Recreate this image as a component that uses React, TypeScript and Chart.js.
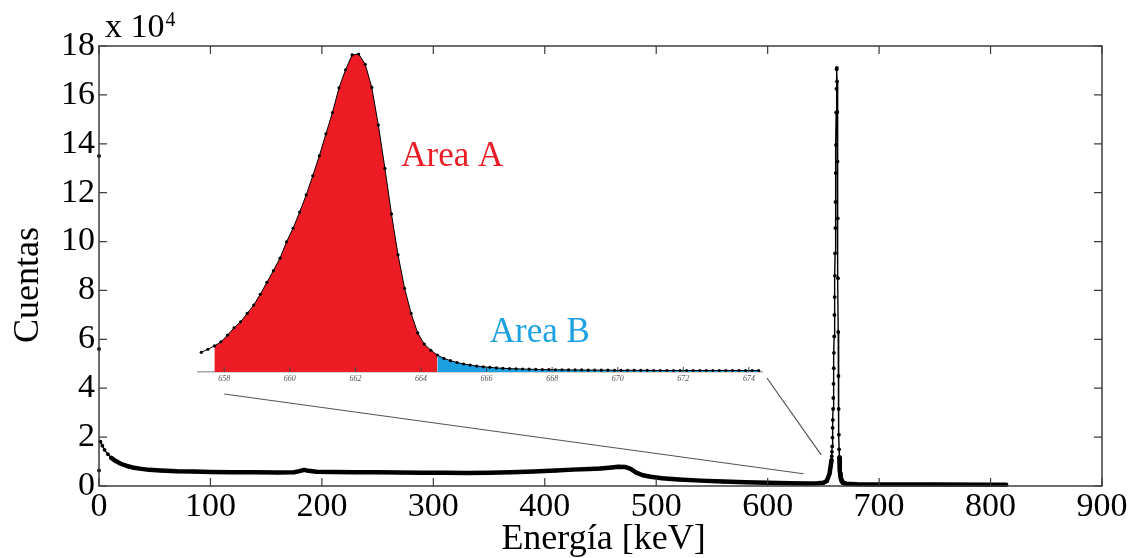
import React, { useEffect, useRef } from "react";
import { Chart, registerables } from "chart.js";

Chart.register(...registerables);

const SERIF = '"Liberation Serif", "Times New Roman", serif';

// Axis ticks
const xTicks = [0, 100, 200, 300, 400, 500, 600, 700, 800, 900];
const yTicks = [0, 2, 4, 6, 8, 10, 12, 14, 16, 18];
const insetTicks = [658, 660, 662, 664, 666, 668, 670, 672, 674];

// Spectrum (counts in units of 10^4)
const continuumEnergy = [1.3, 3, 5, 8, 11, 15, 20, 25, 30, 38, 45, 55, 70, 85, 100, 120, 140, 160, 175, 180, 184, 188, 195, 210, 230, 250, 270, 290, 310, 330, 350, 370, 390, 410, 425, 440, 450, 460, 466, 472, 477, 482, 488, 495, 505, 520, 540, 560, 580, 600, 620, 635, 645, 650, 653, 655.5, 656.5];
const continuumCounts = [1.81, 1.65, 1.48, 1.3, 1.15, 1.02, 0.9, 0.82, 0.76, 0.7, 0.66, 0.63, 0.6, 0.59, 0.57, 0.56, 0.56, 0.55, 0.56, 0.61, 0.66, 0.62, 0.58, 0.57, 0.56, 0.56, 0.55, 0.54, 0.54, 0.53, 0.54, 0.56, 0.59, 0.63, 0.67, 0.7, 0.72, 0.76, 0.79, 0.78, 0.7, 0.55, 0.44, 0.38, 0.32, 0.27, 0.22, 0.18, 0.15, 0.13, 0.11, 0.1, 0.11, 0.13, 0.2, 0.5, 0.8];

// first channels at ~0 keV
const zeroChannelEnergy = [0, 0, 0];
const zeroChannelCounts = [13.5, 5.6, 0.63];

// Photopeak region, 0.2 keV channels starting at 657.3 keV
const peakStartEnergy = 657.3;
const peakChannelWidth = 0.2;
const peakCounts = [
  1.06, 1.22, 1.4, 1.62, 1.98, 2.38, 2.7, 3.15, 3.6, 4.18,
  4.82, 5.45, 6.12, 7.0, 7.73, 8.6, 9.52, 10.55, 11.62, 12.8,
  13.95, 15.28, 16.25, 17.05, 17.1, 16.55, 15.3, 13.28, 10.95, 8.5,
  6.3, 4.5, 3.15, 2.1, 1.5, 1.17, 0.91, 0.73, 0.61, 0.51,
  0.43, 0.37, 0.32, 0.28, 0.25, 0.22, 0.2, 0.18, 0.17, 0.16,
  0.15, 0.14, 0.13, 0.13, 0.12, 0.12, 0.11, 0.11, 0.11, 0.1,
  0.1, 0.1, 0.1, 0.09, 0.09, 0.09, 0.09, 0.09, 0.09, 0.08,
  0.08, 0.08, 0.08, 0.08, 0.08, 0.08, 0.08, 0.08, 0.08, 0.08,
  0.08, 0.08, 0.08, 0.08, 0.08, 0.08,
];
const peakEnergy = peakCounts.map((_, i) => +(peakStartEnergy + i * peakChannelWidth).toFixed(1));

const tailEnergy = [680, 700, 750, 800, 814];
const tailCounts = [0.07, 0.06, 0.06, 0.055, 0.05];

// Areas
const areaAStart = 657.7;
const areaSplit = 664.5;
const areaLabels = ["Area A", "Area B"];
const areaColors = ["#ED1C24", "#1BA1E2"];
const areaLabelEnergy = [663.4, 666.1];
const areaLabelCounts = [11.1, 1.6];

// zoom connector lines: inset energy -> main (energy, counts)
const connectorInsetEnergy = [658, 674.55];
const connectorDrop = [22, 6];
const connectorMainEnergy = [632, 648];
const connectorMainCounts = [0.5, 1.27];

const pts = (xs: number[], ys: number[]) => xs.map((x, i) => ({ x, y: ys[i] }));

export default function App() {
  const mainRef = useRef<HTMLCanvasElement>(null);
  const insetRef = useRef<HTMLCanvasElement>(null);

  useEffect(() => {
    const spectrum = [
      ...pts(continuumEnergy, continuumCounts),
      ...pts(peakEnergy, peakCounts),
      ...pts(tailEnergy, tailCounts),
    ];

    const framePlugin = {
      id: "frame",
      afterDraw(chart: any) {
        const { ctx, chartArea: a, scales } = chart;
        ctx.save();
        ctx.strokeStyle = "#3c3c3c";
        ctx.lineWidth = 1.5;
        ctx.strokeRect(a.left, a.top, a.right - a.left, a.bottom - a.top);
        ctx.lineWidth = 1.2;
        const tl = 8;
        ctx.beginPath();
        xTicks.forEach((v) => {
          const x = scales.x.getPixelForValue(v);
          ctx.moveTo(x, a.bottom); ctx.lineTo(x, a.bottom - tl);
          ctx.moveTo(x, a.top); ctx.lineTo(x, a.top + tl);
        });
        yTicks.forEach((v) => {
          const y = scales.y.getPixelForValue(v);
          ctx.moveTo(a.left, y); ctx.lineTo(a.left + tl, y);
          ctx.moveTo(a.right, y); ctx.lineTo(a.right - tl, y);
        });
        ctx.stroke();

        // exponent label
        ctx.fillStyle = "#000";
        ctx.textBaseline = "alphabetic";
        ctx.textAlign = "left";
        ctx.font = `34px ${SERIF}`;
        const base = "x 10";
        ctx.fillText(base, a.left + 6, a.top - 9);
        const w = ctx.measureText(base).width;
        ctx.font = `20px ${SERIF}`;
        ctx.fillText("4", a.left + 6 + w + 1, a.top - 20);

        // axis titles
        ctx.font = `36px ${SERIF}`;
        ctx.textAlign = "center";
        ctx.textBaseline = "middle";
        ctx.fillText("Energía [keV]", (a.left + a.right) / 2 + 3, 540);
        ctx.save();
        ctx.translate(29, (a.top + a.bottom) / 2 + 19);
        ctx.rotate(-Math.PI / 2);
        ctx.fillText("Cuentas", 0, 0);
        ctx.restore();
        ctx.restore();
      },
    };

    const main = new Chart(mainRef.current!, {
      type: "line",
      data: {
        datasets: [
          {
            data: spectrum,
            borderColor: "#000",
            backgroundColor: "#000",
            pointBackgroundColor: "#000",
            pointBorderWidth: 0,
            pointRadius: 1.9,
            borderWidth: 4.5,
            borderJoinStyle: "round",
            borderCapStyle: "round",
            fill: false,
            tension: 0,
            clip: false as any,
            segment: {
              borderWidth: (c: any) => (Math.max(c.p0.parsed.y, c.p1.parsed.y) > 1.2 ? 1.4 : 4.5),
            },
          } as any,
          {
            data: pts(zeroChannelEnergy, zeroChannelCounts),
            showLine: false,
            pointRadius: 2,
            pointBorderWidth: 0,
            pointBackgroundColor: "#000",
            borderColor: "#000",
            clip: false as any,
          } as any,
        ],
      },
      options: {
        responsive: false,
        animation: false,
        devicePixelRatio: 1,
        layout: { padding: { left: 0, top: 46, right: 35, bottom: 0 } },
        plugins: { legend: { display: false }, tooltip: { enabled: false } },
        scales: {
          x: {
            type: "linear",
            min: 0,
            max: 900,
            afterBuildTicks: (s: any) => { s.ticks = xTicks.map((value) => ({ value })); },
            afterFit: (s: any) => { s.height = 72; },
            grid: { display: false, drawTicks: false },
            border: { display: false },
            ticks: { font: { family: SERIF, size: 34 }, color: "#000", padding: 1, maxRotation: 0, autoSkip: false },
          },
          y: {
            type: "linear",
            min: 0,
            max: 18,
            afterBuildTicks: (s: any) => { s.ticks = yTicks.map((value) => ({ value })); },
            afterFit: (s: any) => { s.width = 99; },
            grid: { display: false, drawTicks: false },
            border: { display: false },
            ticks: { font: { family: SERIF, size: 34 }, color: "#000", padding: 4, autoSkip: false },
          },
        },
      } as any,
      plugins: [framePlugin],
    });

    const peakPts = pts(peakEnergy, peakCounts);

    const insetPlugin = {
      id: "insetDeco",
      afterDraw(chart: any) {
        const { ctx, chartArea: a, scales } = chart;
        ctx.save();
        ctx.strokeStyle = "#444";
        ctx.lineWidth = 1;
        ctx.beginPath();
        insetTicks.forEach((v) => {
          const x = scales.x.getPixelForValue(v);
          ctx.moveTo(x, a.bottom); ctx.lineTo(x, a.bottom - 5);
        });
        ctx.stroke();

        ctx.font = `35px ${SERIF}`;
        ctx.textAlign = "left";
        ctx.textBaseline = "alphabetic";
        areaLabels.forEach((t, i) => {
          ctx.fillStyle = areaColors[i];
          ctx.fillText(t, scales.x.getPixelForValue(areaLabelEnergy[i]), scales.y.getPixelForValue(areaLabelCounts[i]));
        });

        ctx.strokeStyle = "#555";
        ctx.lineWidth = 1.2;
        ctx.beginPath();
        connectorInsetEnergy.forEach((e, i) => {
          ctx.moveTo(scales.x.getPixelForValue(e), a.bottom + connectorDrop[i]);
          ctx.lineTo(main.scales.x.getPixelForValue(connectorMainEnergy[i]), main.scales.y.getPixelForValue(connectorMainCounts[i]));
        });
        ctx.stroke();
        ctx.restore();
      },
    };

    const inset = new Chart(insetRef.current!, {
      type: "line",
      data: {
        datasets: [
          {
            data: peakPts,
            borderColor: "#000",
            borderWidth: 1,
            pointRadius: 1.6,
            pointBorderWidth: 0,
            pointBackgroundColor: "#000",
            fill: false,
            clip: false as any,
          },
          {
            data: peakPts.filter((p) => p.x >= areaAStart - 1e-6 && p.x <= areaSplit + 1e-6),
            borderWidth: 0,
            pointRadius: 0,
            fill: "origin",
            backgroundColor: areaColors[0],
          },
          {
            data: peakPts.filter((p) => p.x >= areaSplit - 1e-6),
            borderWidth: 0,
            pointRadius: 0,
            fill: "origin",
            backgroundColor: areaColors[1],
          },
        ],
      },
      options: {
        responsive: false,
        animation: false,
        devicePixelRatio: 1,
        layout: { padding: { left: 198, right: 375, top: 54, bottom: 170 } },
        plugins: { legend: { display: false }, tooltip: { enabled: false } },
        scales: {
          x: {
            type: "linear",
            min: 657.2,
            max: 674.4,
            afterBuildTicks: (s: any) => { s.ticks = insetTicks.map((value) => ({ value })); },
            afterFit: (s: any) => { s.height = 16; },
            grid: { display: false, drawTicks: false },
            border: { display: true, color: "#a8a8a8", width: 1.5 },
            ticks: { font: { family: SERIF, size: 8, style: "italic" }, color: "#555", padding: 2, maxRotation: 0, autoSkip: false },
          },
          y: { display: false, min: 0, max: 17.1 },
        },
      } as any,
      plugins: [insetPlugin],
    });

    return () => {
      inset.destroy();
      main.destroy();
    };
  }, []);

  const cs: React.CSSProperties = { position: "absolute", left: 0, top: 0, width: 1137, height: 558 };
  return (
    <div style={{ position: "fixed", left: 0, top: 0, width: 1137, height: 558, background: "#fff" }}>
      <canvas ref={mainRef} width={1137} height={558} style={cs} />
      <canvas ref={insetRef} width={1137} height={558} style={cs} />
    </div>
  );
}
